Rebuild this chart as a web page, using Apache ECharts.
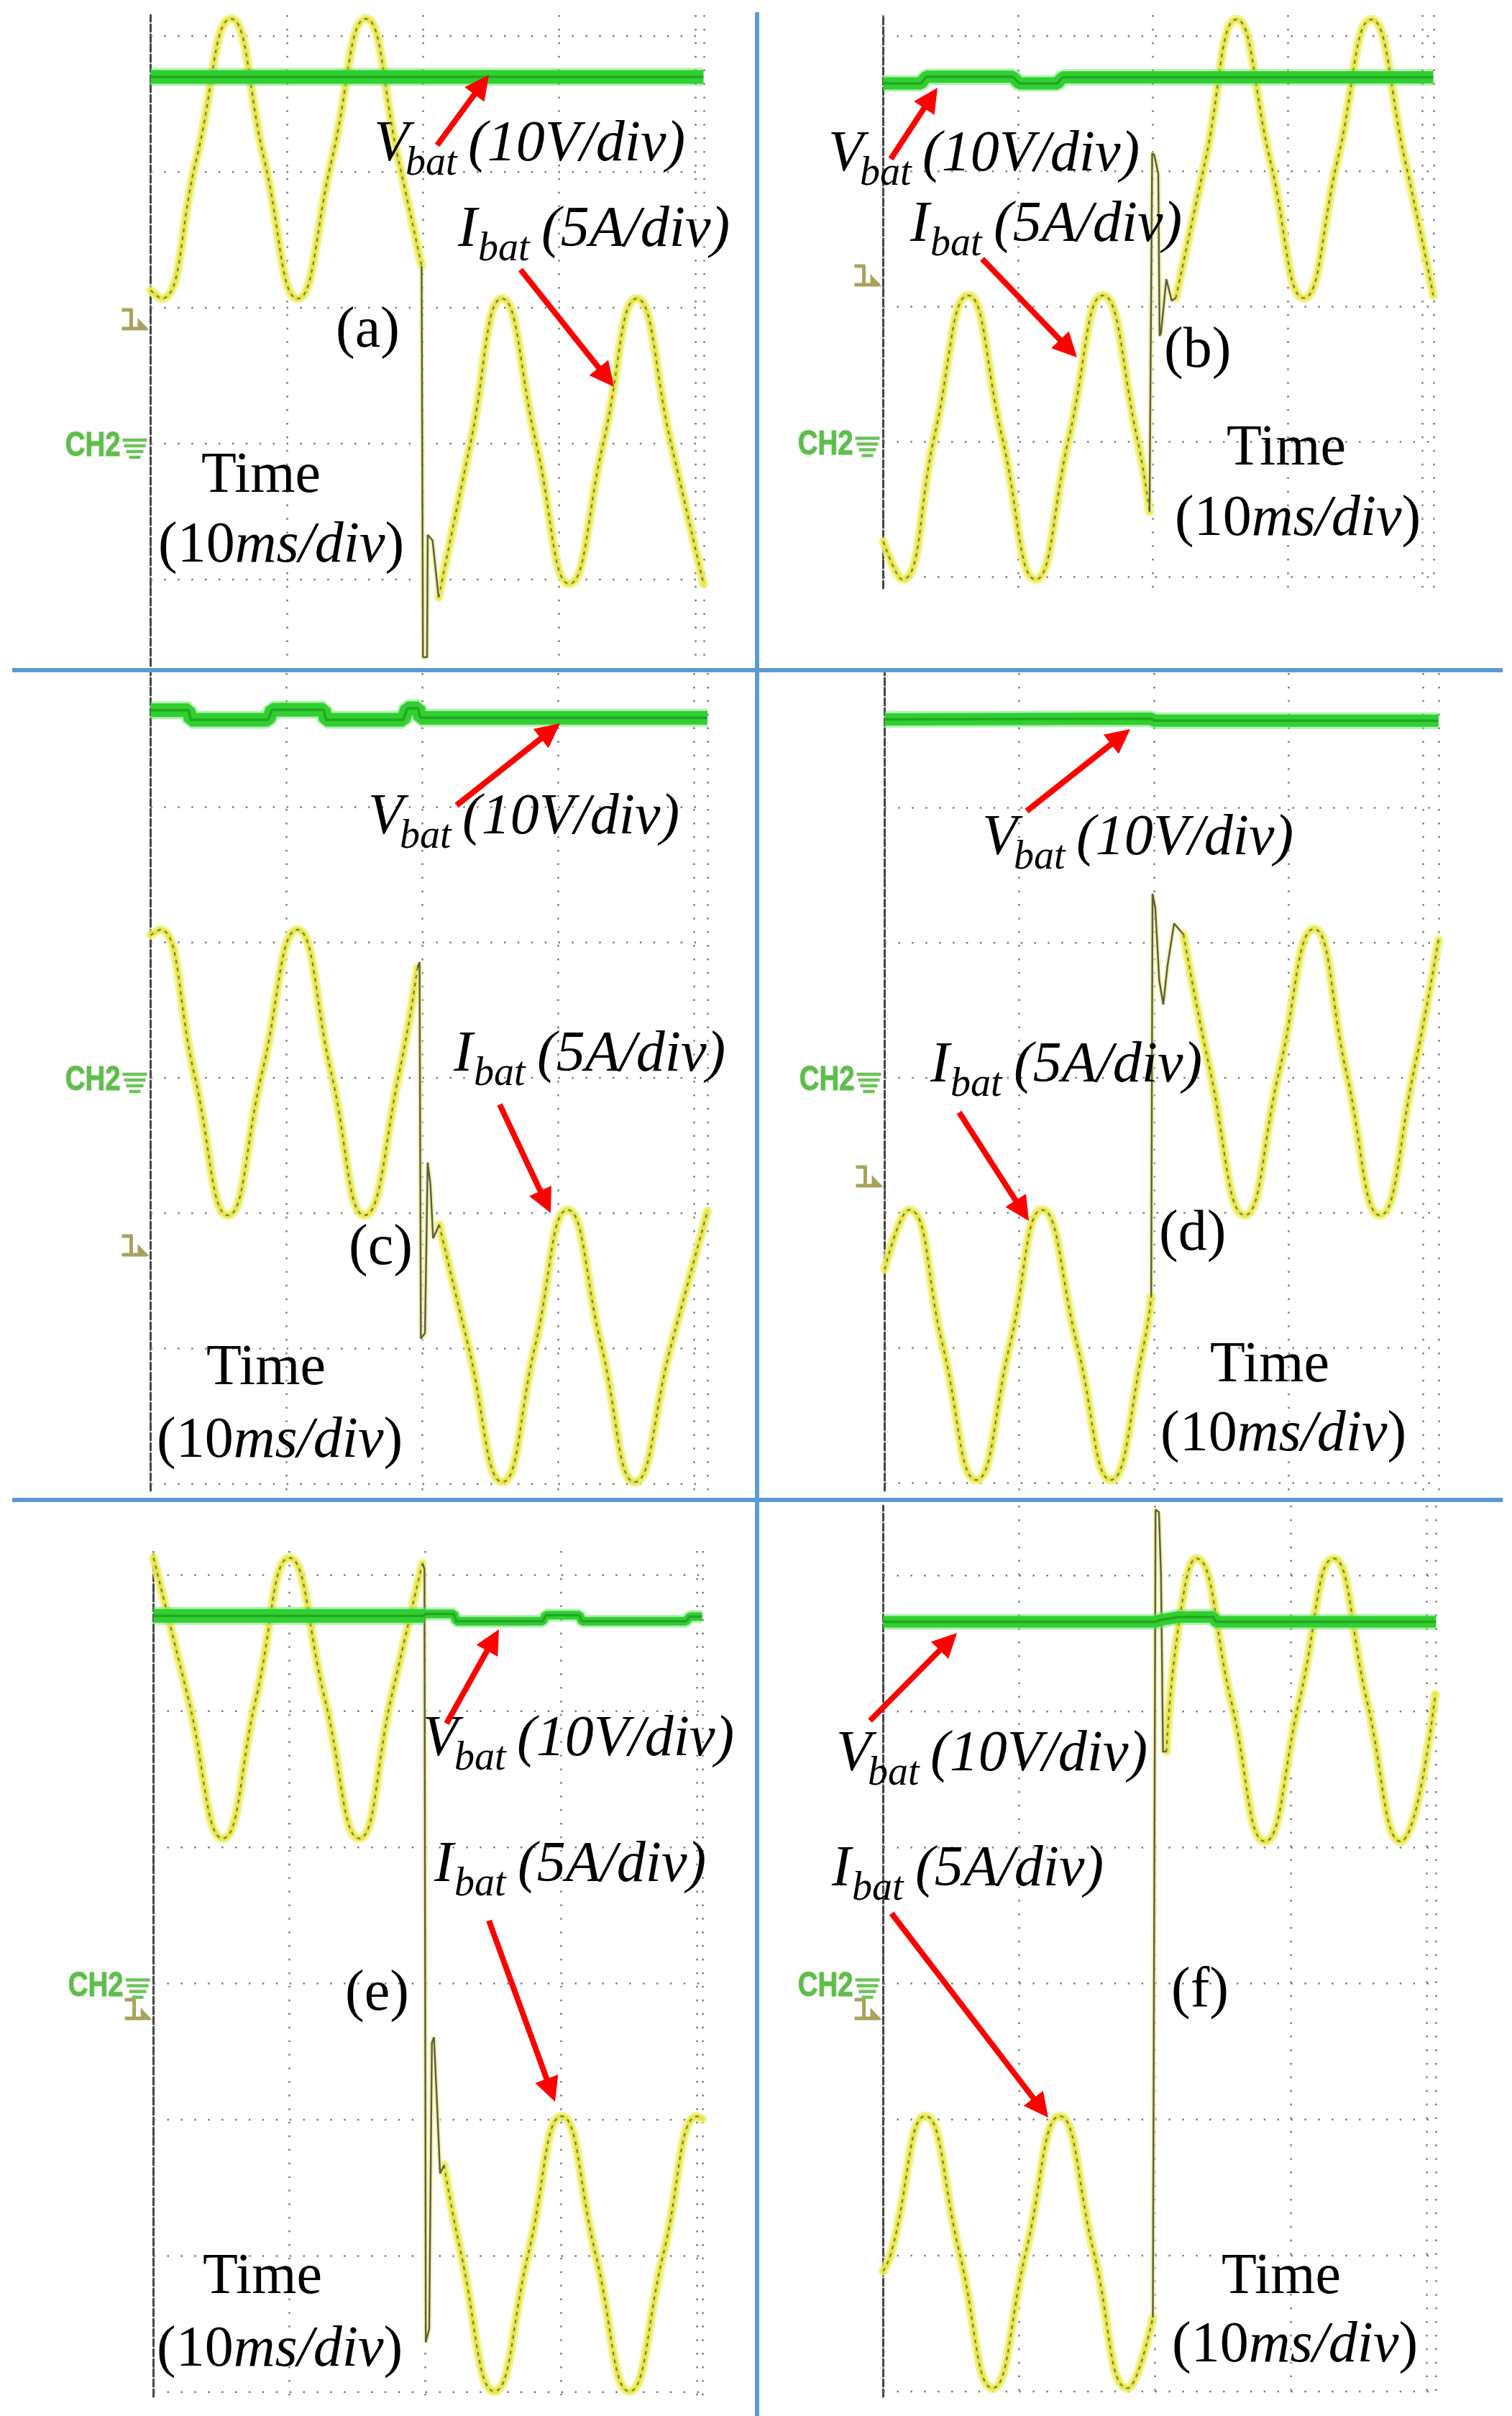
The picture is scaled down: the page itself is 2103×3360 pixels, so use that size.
<!DOCTYPE html>
<html><head><meta charset="utf-8">
<script src="https://cdn.jsdelivr.net/npm/echarts@6/dist/echarts.min.js"></script>
<style>html,body{margin:0;padding:0;background:#fff}#c{width:2103px;height:3360px}</style>
</head><body><div id="c"></div>
<script>
// ================= DATA (time in ms, current in A, voltage in V) =================
const panelTags = ['(a)', '(b)', '(c)', '(d)', '(e)', '(f)'];
const vLabelParts = ['V', 'bat', '(10V/div)'];
const iLabelParts = ['I', 'bat', '(5A/div)'];
const timeText = 'Time';
const unitParts = ['(10', 'ms/div', ')'];

// (a)
const currentA_before = [[0,1.3],[0.8,1.0],[3.35,6.1],[5.9,11.3],[8.35,6.1],[10.8,1.0],[13.3,6.1],[15.8,11.3],[18.2,6.1],[19.9,2.2]];
const currentA_glitch = [[19.9,2.2],[20.0,-12.2],[20.3,-12.2],[20.35,-7.7],[20.7,-7.9],[21.15,-10.0]];
const currentA_after  = [[21.15,-10.0],[23.5,-4.3],[25.8,1.0],[28.3,-4.3],[30.75,-9.5],[33.25,-4.3],[35.7,1.0],[38.2,-4.3],[40.6,-9.5]];
const voltageA = [[0,27.0],[40.6,27.0]];
// (b)
const currentB_before = [[0,-9.6],[1.4,-11.0],[3.8,-5.7],[6.3,-0.5],[8.8,-5.7],[11.3,-11.0],[13.8,-5.7],[16.3,-0.5],[18.8,-5.7],[19.75,-8.5]];
const currentB_glitch = [[19.75,-8.5],[19.95,4.75],[20.1,4.7],[20.4,4.0],[20.5,-2.0],[20.6,-1.9],[21.0,0.1],[21.4,-0.7],[21.7,-0.6]];
const currentB_after  = [[21.7,-0.6],[23.9,4.5],[26.2,9.7],[28.7,4.5],[31.2,-0.6],[33.7,4.5],[36.2,9.7],[38.7,4.5],[40.8,-0.5]];
const voltageB = [[0,26.5],[2.8,26.5],[3.2,27.0],[9.6,27.0],[10.1,26.5],[12.9,26.5],[13.3,26.95],[40.8,26.95]];
// (c)
const currentC_before = [[0,11.7],[0.7,11.9],[3.2,6.6],[5.7,1.35],[8.2,6.6],[10.8,11.9],[13.3,6.6],[15.75,1.35],[18.3,6.6],[19.65,10.5]];
const currentC_glitch = [[19.65,10.5],[19.8,10.7],[19.9,-3.2],[20.2,-3.0],[20.4,3.3],[20.6,2.5],[20.8,0.5],[21.25,1.0]];
const currentC_after  = [[21.25,1.0],[23.4,-3.5],[25.9,-8.5],[28.3,-3.5],[30.7,1.55],[33.2,-3.5],[35.65,-8.5],[38.3,-3.5],[41.0,1.5]];
const voltageC = [[0,27.15],[2.8,27.15],[2.95,26.45],[8.65,26.45],[8.95,27.2],[12.75,27.2],[12.9,26.45],[18.6,26.45],[18.9,27.3],[19.7,27.3],[19.85,26.6],[41.0,26.6]];
// (d)
const currentD_before = [[0,-3.2],[1.8,-1.0],[4.3,-6.0],[6.8,-11.0],[9.3,-6.0],[11.7,-1.0],[14.3,-6.0],[16.8,-11.0],[19.25,-6.0],[19.8,-4.2]];
const currentD_glitch = [[19.8,-4.2],[19.9,10.7],[20.1,10.2],[20.4,7.5],[20.7,6.6],[21.0,8.0],[21.5,9.6],[22.2,9.2]];
const currentD_after  = [[22.2,9.2],[24.2,4.1],[26.75,-1.2],[29.3,4.1],[31.9,9.4],[34.3,4.1],[36.8,-1.2],[39.3,4.1],[41.15,9.0]];
const voltageD = [[0,26.55],[19.8,26.6],[20.0,26.45],[41.15,26.45]];
// (e)
const currentE_before = [[0,16.8],[2.55,11.65],[5.1,6.5],[7.55,11.65],[10.0,16.8],[12.6,11.65],[15.15,6.5],[17.5,11.65],[19.8,16.6]];
const currentE_glitch = [[19.8,16.6],[19.95,16.4],[20.05,-12.0],[20.3,-11.5],[20.5,-1.0],[20.65,-0.8],[20.9,-3.5],[21.1,-5.8],[21.4,-5.5]];
const currentE_after  = [[21.4,-5.5],[22.65,-8.75],[25.1,-13.8],[27.6,-8.75],[30.05,-3.7],[32.55,-8.75],[35.05,-13.8],[37.55,-8.75],[40.05,-3.7],[40.4,-3.8]];
const voltageE_before = [[0,27.0],[19.95,27.0]];
const voltageE_after  = [[19.95,27.0],[20.0,27.15],[22.1,27.15],[22.3,26.6],[28.65,26.6],[28.9,27.05],[31.35,27.05],[31.55,26.6],[39.2,26.6],[39.5,26.95],[40.4,26.95]];
// (f)
const currentF_before = [[0,-9.4],[0.6,-8.7],[3.1,-3.7],[5.6,-8.7],[8.05,-13.7],[10.5,-8.7],[13.0,-3.7],[15.5,-8.7],[18.0,-13.7],[19.85,-11.1]];
const currentF_glitch = [[19.85,-11.1],[20.05,18.6],[20.3,18.5],[20.45,16.2],[20.6,9.7],[20.85,9.7]];
const currentF_after  = [[20.85,9.7],[21.8,14.5],[23.05,16.8],[25.6,11.6],[28.1,6.4],[30.65,11.6],[33.15,16.8],[35.6,11.6],[38.1,6.4],[40.65,11.8]];
const voltageF = [[0,26.6],[20.1,26.6],[20.3,26.7],[21.7,26.95],[24.3,26.95],[24.5,26.6],[40.7,26.6]];

const panelData = [
  {pre: currentA_before, glitch: currentA_glitch, post: currentA_after, volt: [voltageA]},
  {pre: currentB_before, glitch: currentB_glitch, post: currentB_after, volt: [voltageB]},
  {pre: currentC_before, glitch: currentC_glitch, post: currentC_after, volt: [voltageC]},
  {pre: currentD_before, glitch: currentD_glitch, post: currentD_after, volt: [voltageD]},
  {pre: currentE_before, glitch: currentE_glitch, post: currentE_after, volt: [voltageE_before, voltageE_after]},
  {pre: currentF_before, glitch: currentF_glitch, post: currentF_after, volt: [voltageF]}
];

// ================= LAYOUT (pixels) =================
// L,R,T,B: screen rect; px,py: pixels per division; z1: current zero; z2: voltage zero (CH2)
const geom = [
  {L:209.5, R:979, T:21, B:926, px:189.4, py:188.9, z1:453, z2:617, bands:[19]},
  {L:1228.5, R:1994, T:21, B:818, px:187.5, py:188.1, z1:392, z2:614.5, bands:[17]},
  {L:209.5, R:984, T:936, B:2073, px:188.9, py:188.26, z1:1741, z2:1499, bands:[19]},
  {L:1230.5, R:2001, T:936, B:2073, px:187.2, py:187.8, z1:1645, z2:1499, bands:[17]},
  {L:213.6, R:977, T:2157, B:3333, px:188.85, py:189.4, z1:2803, z2:2758.6, bands:[19, 12]},
  {L:1228.5, R:1997, T:2094, B:3333, px:188.9, py:189.15, z1:2803, z2:2758.6, bands:[16]}
];
const notes = [
  {v:[520,229], i:[637,348], tag:[467,488], time:[280,690], unit:[220,787], va:[608,202,680,104], ia:[724,375,854,538]},
  {v:[1152,243], i:[1266,341], tag:[1619,516], time:[1706,652], unit:[1634,750], va:[1239,221,1304,122], ia:[1366,360,1498,497]},
  {v:[512,1165], i:[631,1495], tag:[485,1764], time:[287,1931], unit:[218,2032], va:[635,1120,779,1006], ia:[695,1536,766,1687]},
  {v:[1366,1194], i:[1294,1510], tag:[1612,1744], time:[1683,1927], unit:[1614,2023], va:[1428,1128,1572,1014], ia:[1334,1547,1431,1698]},
  {v:[588,2447], i:[604,2622], tag:[480,2801], time:[282,3195], unit:[218,3296], va:[621,2397,694,2266], ia:[680,2671,772,2923]},
  {v:[1163,2468], i:[1157,2628], tag:[1629,2797], time:[1699,3195], unit:[1630,3290], va:[1210,2393,1331,2271], ia:[1240,2661,1458,2945]}
];

// ================= BUILD =================
const SERIF = '"Liberation Serif", "Times New Roman", serif';
const MAIN = 80, SUB = 56, K = 0.34;
const mctx = document.createElement('canvas').getContext('2d');
function textW(s, font) { mctx.font = font; return mctx.measureText(s).width; }
function txt(x, base, s, font, size, fill) {
  return {type: 'text', x: x, y: base - K * size, z: 100, silent: true,
    style: {text: s, font: font, fill: fill || '#000', align: 'left', verticalAlign: 'middle', textAlign: 'left', textVerticalAlign: 'middle'}};
}
function arrow(a) {
  const [x1, y1, x2, y2] = a;
  const dx = x2 - x1, dy = y2 - y1, len = Math.hypot(dx, dy), ux = dx / len, uy = dy / len;
  const hl = 34, hw = 17, bx = x2 - ux * hl, by = y2 - uy * hl;
  return [
    {type: 'line', z: 90, silent: true, shape: {x1: x1, y1: y1, x2: bx + ux * 3, y2: by + uy * 3}, style: {stroke: '#ff0000', lineWidth: 8}},
    {type: 'polygon', z: 90, silent: true, shape: {points: [[x2, y2], [bx - uy * hw, by + ux * hw], [bx + uy * hw, by - ux * hw]]}, style: {fill: '#ff0000'}}
  ];
}

const grids = [], xAxes = [], yAxes = [], series = [], graphics = [];
const gridDot = {color: '#7c7c7c', width: 2.5, type: [2.5, 16.4]};

geom.forEach((g, i) => {
  const d = panelData[i];
  const xmax = (g.R - g.L) / g.px * 10;
  const aMin = (g.z1 - g.B) / g.py * 5, aMax = (g.z1 - g.T) / g.py * 5;
  const vMin = (g.z2 - g.B) / g.py * 10, vMax = (g.z2 - g.T) / g.py * 10;
  grids.push({left: g.L, top: g.T, width: g.R - g.L, height: g.B - g.T, containLabel: false, outerBoundsMode: 'none'});
  xAxes.push({type: 'value', gridIndex: i, min: 0, max: xmax, interval: 10,
    axisLine: {show: false}, axisTick: {show: false}, axisLabel: {show: false},
    splitLine: {show: true, lineStyle: gridDot}});
  yAxes.push({type: 'value', gridIndex: i, min: aMin, max: aMax, position: 'left',
    axisLine: {show: true, onZero: false, lineStyle: {color: '#454545', width: 3, type: [10, 4]}},
    axisTick: {show: false}, axisLabel: {show: false}, splitLine: {show: false}});
  yAxes.push({type: 'value', gridIndex: i, min: vMin, max: vMax, position: 'right',
    axisLine: {show: false}, axisTick: {show: false}, axisLabel: {show: false}, splitLine: {show: false}});
  const ya = 2 * i, yv = 2 * i + 1;
  // horizontal dotted division lines (every 10 V on the CH2 scale)
  for (let v = Math.ceil(vMin / 10) * 10; v < vMax - 0.3; v += 10) {
    if (v <= vMin + 0.3) continue;
    series.push({type: 'line', xAxisIndex: i, yAxisIndex: yv, data: [[0, v], [xmax, v]], symbol: 'none', silent: true, z: 1,
      lineStyle: gridDot, emphasis: {disabled: true}});
  }
  // current trace (yellow glow + dark dashed core)
  [d.pre, d.post].forEach(arr => {
    series.push({type: 'line', xAxisIndex: i, yAxisIndex: ya, data: arr, smooth: 0.5, symbol: 'none', silent: true, z: 2,
      lineStyle: {color: 'rgba(240,240,110,0.75)', width: 13, cap: 'round', join: 'round'}, emphasis: {disabled: true}});
    series.push({type: 'line', xAxisIndex: i, yAxisIndex: ya, data: arr, smooth: 0.5, symbol: 'none', silent: true, z: 2,
      lineStyle: {color: '#e6e650', width: 7, cap: 'round', join: 'round'}, emphasis: {disabled: true}});
    series.push({type: 'line', xAxisIndex: i, yAxisIndex: ya, data: arr, smooth: 0.5, symbol: 'none', silent: true, z: 3,
      lineStyle: {color: '#7d7d3a', width: 2.2, type: [5, 6]}, emphasis: {disabled: true}});
  });
  series.push({type: 'line', xAxisIndex: i, yAxisIndex: ya, data: d.glitch, symbol: 'none', silent: true, z: 2,
    lineStyle: {color: 'rgba(240,240,150,0.7)', width: 7}, emphasis: {disabled: true}});
  series.push({type: 'line', xAxisIndex: i, yAxisIndex: ya, data: d.glitch, symbol: 'none', silent: true, z: 3,
    lineStyle: {color: '#5e5e42', width: 2.5}, emphasis: {disabled: true}});
  // voltage trace (green band)
  d.volt.forEach((arr, k) => {
    const bw = g.bands[k];
    series.push({type: 'line', xAxisIndex: i, yAxisIndex: yv, data: arr, symbol: 'none', silent: true, z: 4,
      lineStyle: {color: 'rgba(110,225,110,0.5)', width: bw + 6}, emphasis: {disabled: true}});
    series.push({type: 'line', xAxisIndex: i, yAxisIndex: yv, data: arr, symbol: 'none', silent: true, z: 5,
      lineStyle: {color: '#30d030', width: bw}, emphasis: {disabled: true}});
    series.push({type: 'line', xAxisIndex: i, yAxisIndex: yv, data: arr, symbol: 'none', silent: true, z: 6,
      lineStyle: {color: '#1c8a1e', width: 3.5, opacity: 0.6}, emphasis: {disabled: true}});
  });

  // CH2 marker + ground symbol
  graphics.push({type: 'text', x: g.L - 42, y: g.z2 + 4, scaleX: 0.8, z: 80, silent: true,
    style: {text: 'CH2', font: 'bold 48px "Liberation Sans", Arial, sans-serif', fill: '#5fbd4d', stroke: '#8fd480', lineWidth: 1.5,
      align: 'right', verticalAlign: 'middle', textAlign: 'right', textVerticalAlign: 'middle'}});
  [[-5, 0], [3, 2], [11, 5], [19, 9]].forEach(([dy, s]) => {
    graphics.push({type: 'line', z: 80, silent: true, shape: {x1: g.L - 39 + s, y1: g.z2 + dy, x2: g.L - 5 - s, y2: g.z2 + dy},
      style: {stroke: '#6cc35a', lineWidth: 4.5}});
  });
  // channel-1 marker
  const m = g.z1 + 4;
  const mk = '#a8a35c';
  graphics.push({type: 'polyline', z: 81, silent: true, shape: {points: [[g.L - 40, m - 26], [g.L - 25, m - 26]]}, style: {stroke: mk, lineWidth: 5, fill: null}});
  graphics.push({type: 'polyline', z: 81, silent: true, shape: {points: [[g.L - 27, m - 26], [g.L - 27, m], [g.L - 40, m], [g.L - 5, m]]}, style: {stroke: mk, lineWidth: 5, fill: null}});
  graphics.push({type: 'polygon', z: 81, silent: true, shape: {points: [[g.L - 18, m - 15], [g.L - 2, m + 2], [g.L - 18, m + 2]]}, style: {fill: mk}});

  // annotations
  const n = notes[i];
  const itF = 'italic ' + MAIN + 'px ' + SERIF, itS = 'italic ' + SUB + 'px ' + SERIF, upF = MAIN + 'px ' + SERIF;
  graphics.push(txt(n.v[0], n.v[1], vLabelParts[0], itF, MAIN));
  graphics.push(txt(n.v[0] + 44, n.v[1] + 18, vLabelParts[1], itS, SUB));
  graphics.push(txt(n.v[0] + 131, n.v[1], vLabelParts[2], itF, MAIN));
  graphics.push(txt(n.i[0], n.i[1], iLabelParts[0], itF, MAIN));
  graphics.push(txt(n.i[0] + 28, n.i[1] + 18, iLabelParts[1], itS, SUB));
  graphics.push(txt(n.i[0] + 116, n.i[1], iLabelParts[2], itF, MAIN));
  graphics.push(txt(n.tag[0], n.tag[1], panelTags[i], upF, MAIN));
  graphics.push(txt(n.time[0], n.time[1], timeText, upF, MAIN));
  let cx = n.unit[0];
  [[unitParts[0], upF], [unitParts[1], itF], [unitParts[2], upF]].forEach(([s, f]) => {
    graphics.push(txt(cx, n.unit[1], s, f, MAIN));
    cx += textW(s, f);
  });
  graphics.push(...arrow(n.va), ...arrow(n.ia));
});

// blue separators
const sep = {stroke: '#5b9bd5', lineWidth: 6};
graphics.push({type: 'line', z: 95, silent: true, shape: {x1: 17, y1: 932, x2: 2090, y2: 932}, style: sep});
graphics.push({type: 'line', z: 95, silent: true, shape: {x1: 17, y1: 2086, x2: 2090, y2: 2086}, style: sep});
graphics.push({type: 'line', z: 95, silent: true, shape: {x1: 1053, y1: 17, x2: 1053, y2: 3360}, style: sep});

const chart = echarts.init(document.getElementById('c'), null, {renderer: 'canvas', width: 2103, height: 3360});
chart.setOption({
  animation: false,
  backgroundColor: '#ffffff',
  grid: grids, xAxis: xAxes, yAxis: yAxes, series: series,
  graphic: {elements: graphics}
});
</script></body></html>
